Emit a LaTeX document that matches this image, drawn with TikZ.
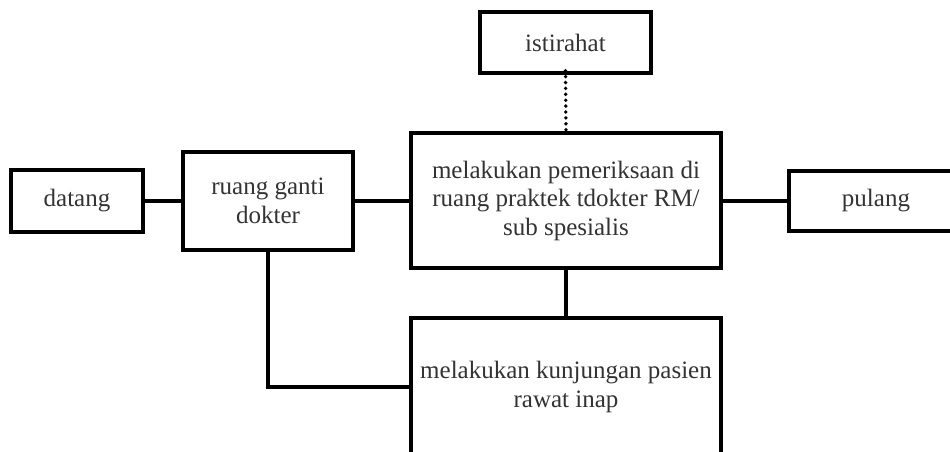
\documentclass[tikz,border=0pt]{standalone}
\usepackage{fontspec}
\setmainfont{Liberation Serif}
\begin{document}
\begin{tikzpicture}[x=1pt,y=-1pt,
  stepbox/.style={draw=black, line width=3.4pt, fill=white, rectangle,
    inner sep=0pt, align=center, text=black!80,
    font=\fontsize{25}{28.5}\selectfont},
  link/.style={line width=3.2pt, black},
  dotlink/.style={line width=3.8pt, black, line cap=round,
    dash pattern=on 0pt off 5.9pt}]
\useasboundingbox[fill=white] (0,0) rectangle (950,451);

% process boxes
\node[stepbox, minimum width=132pt, minimum height=62pt] (datang) at (77,201) {datang};
\node[stepbox, minimum width=170pt, minimum height=98pt] (ganti) at (268,201) {ruang ganti\\dokter};
\node[stepbox, minimum width=310pt, minimum height=135pt] (periksa) at (566,200.5)
  {melakukan pemeriksaan di\\ruang praktek tdokter RM/\\sub spesialis};
\node[stepbox, minimum width=171pt, minimum height=61pt] (istirahat) at (565.5,42.5) {istirahat};
\node[stepbox, minimum width=174pt, minimum height=60pt] (pulang) at (876,201) {pulang};
\node[stepbox, minimum width=310pt, minimum height=138pt] (kunjungan) at (566,387)
  {melakukan kunjungan pasien\\rawat inap};

% connectors
\draw[link] (datang.east) -- (ganti.west);
\draw[link] (ganti.east) -- (ganti.east -| periksa.west);
\draw[link] (periksa.east |- pulang.west) -- (pulang.west);
\draw[dotlink] ([yshift=4pt]istirahat.south) -- ([yshift=-3pt]periksa.north);
\draw[link] (periksa.south) -- (kunjungan.north);
\draw[link] (ganti.south) |- (kunjungan.west);
\end{tikzpicture}
\end{document}
